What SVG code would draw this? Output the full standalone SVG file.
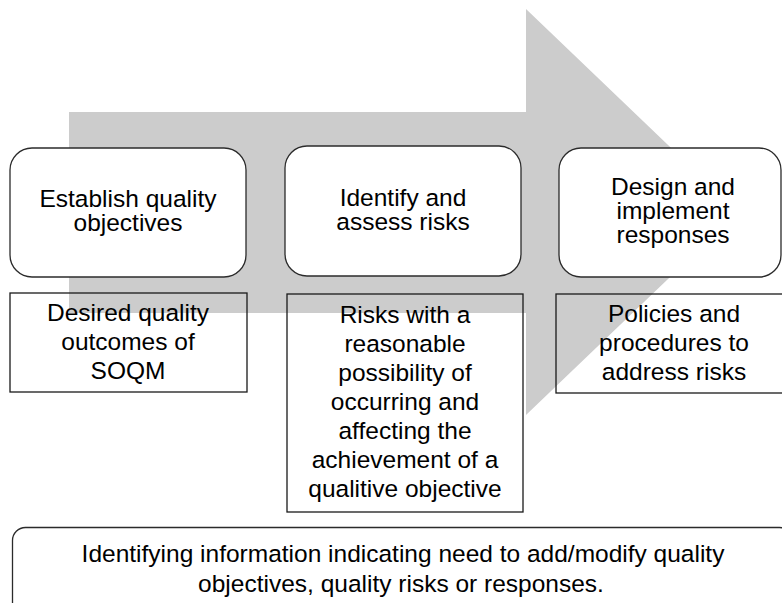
<svg xmlns="http://www.w3.org/2000/svg" width="782" height="603" viewBox="0 0 782 603">
  <style>
    .bg { fill: #ffffff; }
    .arrow { fill: #cccccc; stroke: none; }
    .rbox { fill: #ffffff; stroke: #2b2b2b; stroke-width: 1.3; }
    .box { fill: none; stroke: #1a1a1a; stroke-width: 1.3; }
    .t { font-family: "Liberation Sans", Arial, sans-serif; font-size: 24.5px; fill: #000000; text-anchor: middle; }
  </style>
  <rect class="bg" x="0" y="0" width="782" height="603"/>
  <g id="process-arrow">
    <polygon class="arrow" points="69,112 526,112 526,9 738,212 526,415 526,313 69,313"/>
  </g>
  <g id="node-establish">
    <rect class="rbox" x="10" y="148" width="236" height="129" rx="22" ry="22"/>
    <text class="t" x="128" y="207">Establish quality</text>
    <text class="t" x="128" y="231">objectives</text>
  </g>
  <g id="node-identify">
    <rect class="rbox" x="285" y="146" width="236" height="130" rx="22" ry="22"/>
    <text class="t" x="403" y="206">Identify and</text>
    <text class="t" x="403" y="230">assess risks</text>
  </g>
  <g id="node-design">
    <rect class="rbox" x="559" y="148" width="222" height="129" rx="22" ry="22"/>
    <text class="t" x="673" y="195">Design and</text>
    <text class="t" x="673" y="219">implement</text>
    <text class="t" x="673" y="243">responses</text>
  </g>
  <g id="node-outcomes">
    <rect class="box" x="10" y="293" width="237" height="99"/>
    <text class="t" x="128" y="321">Desired quality</text>
    <text class="t" x="128" y="350">outcomes of</text>
    <text class="t" x="128" y="379">SOQM</text>
  </g>
  <g id="node-risks">
    <rect class="box" x="287" y="294" width="236" height="218"/>
    <text class="t" x="405" y="323">Risks with a</text>
    <text class="t" x="405" y="352">reasonable</text>
    <text class="t" x="405" y="381">possibility of</text>
    <text class="t" x="405" y="410">occurring and</text>
    <text class="t" x="405" y="439">affecting the</text>
    <text class="t" x="405" y="468">achievement of a</text>
    <text class="t" x="405" y="497">qualitive objective</text>
  </g>
  <g id="node-policies">
    <rect class="box" x="556" y="294" width="230" height="99"/>
    <text class="t" x="674" y="322">Policies and</text>
    <text class="t" x="674" y="351">procedures to</text>
    <text class="t" x="674" y="380">address risks</text>
  </g>
  <g id="node-monitor">
    <rect class="rbox" x="12.5" y="527.5" width="780" height="90" rx="13" ry="13"/>
    <text class="t" x="403" y="562">Identifying information indicating need to add/modify quality</text>
    <text class="t" x="401" y="592">objectives, quality risks or responses.</text>
  </g>
</svg>
